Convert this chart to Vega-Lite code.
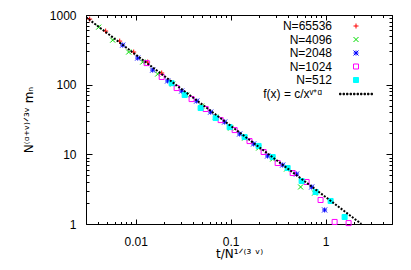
{
  "$schema": "https://vega.github.io/schema/vega-lite/v6.json",
  "width": 306,
  "height": 209,
  "autosize": {"type": "none"},
  "padding": {"left": 86, "top": 15, "right": 19, "bottom": 46},
  "background": "white",
  "config": {
    "view": {"stroke": "#000", "strokeWidth": 1},
    "font": "Liberation Sans",
    "axis": {"domain": false, "grid": false, "labelFont": "Liberation Sans", "labelFontSize": 12, "labelColor": "#000", "titleFont": "DejaVu Sans", "titleFontSize": 12, "titleFontWeight": "normal", "titleColor": "#000", "tickColor": "#000", "tickWidth": 1, "labelOverlap": false, "labelFlush": false},
    "legend": {"orient": "none", "labelFont": "Liberation Sans", "labelFontSize": 12, "labelColor": "#000", "labelAlign": "right", "labelOffset": -30, "symbolSize": 25, "symbolStrokeWidth": 1, "rowPadding": 1.5, "padding": 0}
  },
  "data": {"values": [
    {"s": "N=65536", "t": 0.00328, "m": 873},
    {"s": "N=65536", "t": 0.00483, "m": 588},
    {"s": "N=65536", "t": 0.00679, "m": 422},
    {"s": "N=65536", "t": 0.00953, "m": 294},
    {"s": "N=65536", "t": 0.01337, "m": 211},
    {"s": "N=65536", "t": 0.0188, "m": 147},
    {"s": "N=4096", "t": 0.00408, "m": 670},
    {"s": "N=4096", "t": 0.00573, "m": 436},
    {"s": "N=4096", "t": 0.00844, "m": 294},
    {"s": "N=4096", "t": 0.01185, "m": 211},
    {"s": "N=4096", "t": 0.01705, "m": 142},
    {"s": "N=4096", "t": 0.0245, "m": 102},
    {"s": "N=4096", "t": 0.0344, "m": 71},
    {"s": "N=4096", "t": 0.0495, "m": 49.3},
    {"s": "N=4096", "t": 0.0695, "m": 34.3},
    {"s": "N=4096", "t": 0.1, "m": 23.8},
    {"s": "N=4096", "t": 0.1403, "m": 17.1},
    {"s": "N=4096", "t": 0.197, "m": 12.3},
    {"s": "N=4096", "t": 0.277, "m": 8.57},
    {"s": "N=4096", "t": 0.388, "m": 6.15},
    {"s": "N=4096", "t": 0.545, "m": 3.4},
    {"s": "N=4096", "t": 0.766, "m": 2.78},
    {"s": "N=2048", "t": 0.0073, "m": 370},
    {"s": "N=2048", "t": 0.0105, "m": 241},
    {"s": "N=2048", "t": 0.0151, "m": 162},
    {"s": "N=2048", "t": 0.0217, "m": 113},
    {"s": "N=2048", "t": 0.0305, "m": 81},
    {"s": "N=2048", "t": 0.0439, "m": 58.2},
    {"s": "N=2048", "t": 0.0616, "m": 40.4},
    {"s": "N=2048", "t": 0.0865, "m": 29.1},
    {"s": "N=2048", "t": 0.1244, "m": 19.6},
    {"s": "N=2048", "t": 0.1747, "m": 14.1},
    {"s": "N=2048", "t": 0.245, "m": 9.46},
    {"s": "N=2048", "t": 0.353, "m": 7.02},
    {"s": "N=2048", "t": 0.495, "m": 5.22},
    {"s": "N=2048", "t": 0.713, "m": 3.4},
    {"s": "N=2048", "t": 0.976, "m": 1.59},
    {"s": "N=1024", "t": 0.01306, "m": 204},
    {"s": "N=1024", "t": 0.0188, "m": 129},
    {"s": "N=1024", "t": 0.027, "m": 89.4},
    {"s": "N=1024", "t": 0.0388, "m": 62.1},
    {"s": "N=1024", "t": 0.0546, "m": 44.7},
    {"s": "N=1024", "t": 0.0785, "m": 31.0},
    {"s": "N=1024", "t": 0.1102, "m": 22.3},
    {"s": "N=1024", "t": 0.158, "m": 15.5},
    {"s": "N=1024", "t": 0.2225, "m": 10.8},
    {"s": "N=1024", "t": 0.3126, "m": 7.5},
    {"s": "N=1024", "t": 0.45, "m": 5.39},
    {"s": "N=1024", "t": 0.631, "m": 4.01},
    {"s": "N=1024", "t": 0.885, "m": 2.21},
    {"s": "N=1024", "t": 1.244, "m": 1.07},
    {"s": "N=1024", "t": 1.746, "m": 1.03},
    {"s": "N=512", "t": 0.0239, "m": 105},
    {"s": "N=512", "t": 0.0328, "m": 71},
    {"s": "N=512", "t": 0.0483, "m": 46.2},
    {"s": "N=512", "t": 0.0695, "m": 33.2},
    {"s": "N=512", "t": 0.0976, "m": 24.6},
    {"s": "N=512", "t": 0.1403, "m": 17.7},
    {"s": "N=512", "t": 0.197, "m": 13.2},
    {"s": "N=512", "t": 0.277, "m": 9.15},
    {"s": "N=512", "t": 0.398, "m": 6.36},
    {"s": "N=512", "t": 0.559, "m": 4.14},
    {"s": "N=512", "t": 0.785, "m": 2.88},
    {"s": "N=512", "t": 1.129, "m": 2.14},
    {"s": "N=512", "t": 1.585, "m": 1.26},
    {"s": "f(x) = c/xᵛ⁺ᵅ", "t": 0.003, "m": 930},
    {"s": "f(x) = c/xᵛ⁺ᵅ", "t": 0.01, "m": 270},
    {"s": "f(x) = c/xᵛ⁺ᵅ", "t": 0.1, "m": 25.7},
    {"s": "f(x) = c/xᵛ⁺ᵅ", "t": 1, "m": 2.44},
    {"s": "f(x) = c/xᵛ⁺ᵅ", "t": 2.38, "m": 1}
  ]},
  "layer": [
    {
      "transform": [{"filter": "datum.s != 'f(x) = c/xᵛ⁺ᵅ'"}],
      "mark": {"type": "point", "filled": false, "size": 25, "strokeWidth": 1, "opacity": 1},
      "encoding": {
        "x": {"field": "t", "type": "quantitative", "scale": {"type": "log", "domain": [0.003, 5], "nice": false},
          "axis": {"orient": "bottom", "values": [0.003,0.004,0.005,0.006,0.007,0.008,0.009,0.01,0.02,0.03,0.04,0.05,0.06,0.07,0.08,0.09,0.1,0.2,0.3,0.4,0.5,0.6,0.7,0.8,0.9,1,2,3,4,5],
            "format": "~g",
            "labelExpr": "datum.value == 0.01 || datum.value == 0.1 || datum.value == 1 ? datum.label : ''",
            "tickSize": {"condition": {"test": "datum.value == 0.01 || datum.value == 0.1 || datum.value == 1", "value": -5}, "value": -2.5},
            "labelPadding": 17, "title": "t/N¹ᐟ⁽³ ᵛ⁾", "titlePadding": -1}},
        "y": {"field": "m", "type": "quantitative", "scale": {"type": "log", "domain": [1, 1000], "nice": false},
          "axis": {"orient": "left", "values": [1,2,3,4,5,6,7,8,9,10,20,30,40,50,60,70,80,90,100,200,300,400,500,600,700,800,900,1000],
            "format": "~g",
            "labelExpr": "datum.value == 1 || datum.value == 10 || datum.value == 100 || datum.value == 1000 ? datum.label : ''",
            "tickSize": {"condition": {"test": "datum.value == 1 || datum.value == 10 || datum.value == 100 || datum.value == 1000", "value": -6}, "value": -3},
            "labelPadding": 16, "title": "N⁽ᵅ⁺ᵛ⁾ᐟ³ᵛ mₙ", "titlePadding": 14}},
        "color": {"field": "s", "type": "nominal",
          "scale": {"domain": ["N=65536","N=4096","N=2048","N=1024","N=512"], "range": ["#ff0000","#00dd00","#0000ff","#ff00ff","#00ffff"]},
          "legend": {"title": null, "orient": "none", "legendX": 264, "legendY": 5}},
        "shape": {"field": "s", "type": "nominal",
          "scale": {"domain": ["N=65536","N=4096","N=2048","N=1024","N=512"],
            "range": ["M-1,0H1M0,-1V1", "M-1,-1L1,1M-1,1L1,-1", "M-1,0H1M0,-1V1M-1,-1L1,1M-1,1L1,-1", "M-1,-1H1V1H-1Z", "M-1,-1H1V1H-1Z"]},
          "legend": {"title": null, "orient": "none", "legendX": 264, "legendY": 5}},
        "fill": {"field": "s", "type": "nominal",
          "scale": {"domain": ["N=65536","N=4096","N=2048","N=1024","N=512"], "range": ["transparent","transparent","transparent","transparent","#00ffff"]},
          "legend": {"title": null, "orient": "none", "legendX": 264, "legendY": 5}}
      }
    },
    {
      "transform": [{"filter": "datum.s == 'f(x) = c/xᵛ⁺ᵅ'"}],
      "mark": {"type": "line", "color": "#000", "strokeWidth": 2, "strokeDash": [2, 1.5], "clip": true},
      "encoding": {
        "x": {"field": "t", "type": "quantitative", "scale": {"type": "log", "domain": [0.003, 5], "nice": false},
          "axis": {"orient": "top", "values": [0.003,0.004,0.005,0.006,0.007,0.008,0.009,0.01,0.02,0.03,0.04,0.05,0.06,0.07,0.08,0.09,0.1,0.2,0.3,0.4,0.5,0.6,0.7,0.8,0.9,1,2,3,4,5],
            "labels": false, "title": null,
            "tickSize": {"condition": {"test": "datum.value == 0.01 || datum.value == 0.1 || datum.value == 1", "value": -5}, "value": -2.5}}},
        "y": {"field": "m", "type": "quantitative", "scale": {"type": "log", "domain": [1, 1000], "nice": false},
          "axis": {"orient": "right", "values": [1,2,3,4,5,6,7,8,9,10,20,30,40,50,60,70,80,90,100,200,300,400,500,600,700,800,900,1000],
            "labels": false, "title": null,
            "tickSize": {"condition": {"test": "datum.value == 1 || datum.value == 10 || datum.value == 100 || datum.value == 1000", "value": -6}, "value": -3}}},
        "opacity": {"field": "s", "type": "nominal",
          "scale": {"domain": ["f(x) = c/xᵛ⁺ᵅ"], "range": [1]},
          "legend": {"title": null, "orient": "none", "legendX": 264, "legendY": 73, "labelOffset": -40,
            "symbolType": "M-6.6,-0.3h0.6v0.6h-0.6ZM-5.2,-0.3h0.6v0.6h-0.6ZM-3.8,-0.3h0.6v0.6h-0.6ZM-2.4,-0.3h0.6v0.6h-0.6ZM-1,-0.3h0.6v0.6h-0.6ZM0.4,-0.3h0.6v0.6h-0.6ZM1.8,-0.3h0.6v0.6h-0.6ZM3.2,-0.3h0.6v0.6h-0.6ZM4.6,-0.3h0.6v0.6h-0.6ZM6,-0.3h0.6v0.6h-0.6Z",
            "symbolFillColor": "#000", "symbolStrokeColor": "#000", "symbolStrokeWidth": 1, "symbolSize": 25, "symbolOpacity": 1}}
      }
    }
  ],
  "resolve": {"axis": {"x": "independent", "y": "independent"}}
}
